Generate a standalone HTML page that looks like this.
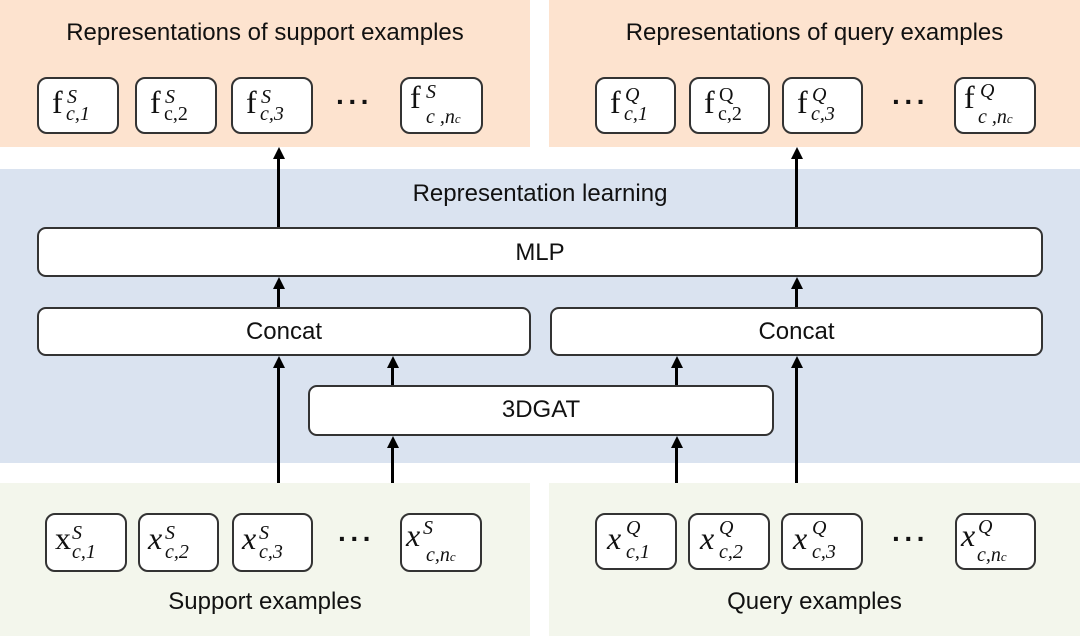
<!DOCTYPE html>
<html><head><meta charset="utf-8"><style>
*{margin:0;padding:0;box-sizing:border-box}
body{width:1080px;height:636px;position:relative;background:#fff;font-family:"Liberation Sans",sans-serif;color:#111;overflow:hidden}
.p{position:absolute}
.box{position:absolute;background:#fff;border:2px solid #333;border-radius:9px}
.lbl{position:absolute;font-size:24px;text-align:center;white-space:nowrap}
.m{position:absolute;border:2px solid #333;border-radius:10px;background:#fff;font-family:"Liberation Serif",serif;font-size:32px;}
.m span.b{position:absolute;left:13px;top:5px}
.m sup,.m sub{position:absolute;font-size:20px;font-style:italic;line-height:1}
.i{font-style:italic}
.v{position:absolute;width:3px;background:#000}
.ah{position:absolute;width:0;height:0;border-left:6px solid transparent;border-right:6px solid transparent;border-bottom:12px solid #000}
.dots{position:absolute;font-size:28px;letter-spacing:3px;font-weight:bold}
</style></head><body>
<div class="p" style="left:0;top:0;width:530px;height:147px;background:#fde3cf"></div>
<div class="p" style="left:549px;top:0;width:531px;height:147px;background:#fde3cf"></div>
<div class="p" style="left:0;top:169px;width:1080px;height:294px;background:#dae3f0"></div>
<div class="p" style="left:0;top:483px;width:530px;height:153px;background:#f3f6ec"></div>
<div class="p" style="left:549px;top:483px;width:531px;height:153px;background:#f3f6ec"></div>

<div class="lbl" style="left:0;width:530px;top:19px">Representations of support examples</div>
<div class="lbl" style="left:549px;width:531px;top:19px">Representations of query examples</div>
<div class="lbl" style="left:0;width:1080px;top:180px">Representation learning</div>
<div class="lbl" style="left:0;width:530px;top:588px">Support examples</div>
<div class="lbl" style="left:549px;width:531px;top:588px">Query examples</div>

<div class="box" style="left:37px;top:227px;width:1006px;height:50px"></div>
<div class="lbl" style="left:37px;width:1006px;top:239px">MLP</div>
<div class="box" style="left:37px;top:307px;width:494px;height:49px"></div>
<div class="lbl" style="left:37px;width:494px;top:318px">Concat</div>
<div class="box" style="left:550px;top:307px;width:493px;height:49px"></div>
<div class="lbl" style="left:550px;width:493px;top:318px">Concat</div>
<div class="box" style="left:308px;top:385px;width:466px;height:51px"></div>
<div class="lbl" style="left:308px;width:466px;top:396px">3DGAT</div>

<div class="v" style="left:277px;top:158px;height:69px"></div><div class="ah" style="left:272.5px;top:147px"></div>
<div class="v" style="left:277px;top:288px;height:19px"></div><div class="ah" style="left:272.5px;top:277px"></div>
<div class="v" style="left:277px;top:367px;height:116px"></div><div class="ah" style="left:272.5px;top:356px"></div>
<div class="v" style="left:391px;top:367px;height:18px"></div><div class="ah" style="left:386.5px;top:356px"></div>
<div class="v" style="left:391px;top:447px;height:36px"></div><div class="ah" style="left:386.5px;top:436px"></div>
<div class="v" style="left:795px;top:158px;height:69px"></div><div class="ah" style="left:790.5px;top:147px"></div>
<div class="v" style="left:795px;top:288px;height:19px"></div><div class="ah" style="left:790.5px;top:277px"></div>
<div class="v" style="left:795px;top:367px;height:116px"></div><div class="ah" style="left:790.5px;top:356px"></div>
<div class="v" style="left:675px;top:367px;height:18px"></div><div class="ah" style="left:670.5px;top:356px"></div>
<div class="v" style="left:675px;top:447px;height:36px"></div><div class="ah" style="left:670.5px;top:436px"></div>

<!-- top boxes -->
<div class="m" style="left:37px;top:77px;width:82px;height:57px"><span class="b">f</span><sup style="left:28px;top:8px">S</sup><sub style="left:27px;top:25px">c,1</sub></div>
<div class="m" style="left:135px;top:77px;width:82px;height:57px"><span class="b">f</span><sup style="left:28px;top:8px">S</sup><sub style="left:27px;top:25px;font-style:normal">c,2</sub></div>
<div class="m" style="left:231px;top:77px;width:82px;height:57px"><span class="b">f</span><sup style="left:28px;top:8px">S</sup><sub style="left:27px;top:25px">c,3</sub></div>
<div class="dots" style="left:336px;top:86px">···</div>
<div class="m" style="left:400px;top:77px;width:83px;height:57px"><span class="b" style="left:8px;top:0">f</span><sup style="left:24px;top:3px">S</sup><sub style="left:24px;top:28px">c ,n<small style="font-size:13px">c</small></sub></div>

<div class="m" style="left:595px;top:77px;width:81px;height:57px"><span class="b">f</span><sup style="left:28px;top:6px">Q</sup><sub style="left:27px;top:25px">c,1</sub></div>
<div class="m" style="left:689px;top:77px;width:81px;height:57px"><span class="b">f</span><sup style="left:28px;top:6px;font-style:normal">Q</sup><sub style="left:27px;top:25px;font-style:normal">c,2</sub></div>
<div class="m" style="left:782px;top:77px;width:81px;height:57px"><span class="b">f</span><sup style="left:28px;top:6px">Q</sup><sub style="left:27px;top:25px">c,3</sub></div>
<div class="dots" style="left:892px;top:86px">···</div>
<div class="m" style="left:954px;top:77px;width:82px;height:57px"><span class="b" style="left:8px;top:0">f</span><sup style="left:24px;top:2px">Q</sup><sub style="left:22px;top:28px">c ,n<small style="font-size:13px">c</small></sub></div>

<!-- bottom boxes -->
<div class="m" style="left:45px;top:513px;width:82px;height:59px"><span class="b" style="left:8px">x</span><sup style="left:25px;top:8px">S</sup><sub style="left:25px;top:27px">c,1</sub></div>
<div class="m" style="left:138px;top:513px;width:81px;height:59px"><span class="b i" style="left:8px">x</span><sup style="left:25px;top:8px">S</sup><sub style="left:25px;top:27px">c,2</sub></div>
<div class="m" style="left:232px;top:513px;width:81px;height:59px"><span class="b i" style="left:8px">x</span><sup style="left:25px;top:8px">S</sup><sub style="left:25px;top:27px">c,3</sub></div>
<div class="dots" style="left:338px;top:523px">···</div>
<div class="m" style="left:400px;top:513px;width:82px;height:59px"><span class="b i" style="left:4px;top:2px">x</span><sup style="left:21px;top:3px">S</sup><sub style="left:24px;top:30px">c,n<small style="font-size:13px">c</small></sub></div>

<div class="m" style="left:595px;top:513px;width:82px;height:57px"><span class="b i" style="left:10px">x</span><sup style="left:29px;top:3px">Q</sup><sub style="left:29px;top:27px">c,1</sub></div>
<div class="m" style="left:688px;top:513px;width:82px;height:57px"><span class="b i" style="left:10px">x</span><sup style="left:29px;top:3px">Q</sup><sub style="left:29px;top:27px">c,2</sub></div>
<div class="m" style="left:781px;top:513px;width:82px;height:57px"><span class="b i" style="left:10px">x</span><sup style="left:29px;top:3px">Q</sup><sub style="left:29px;top:27px">c,3</sub></div>
<div class="dots" style="left:892px;top:523px">···</div>
<div class="m" style="left:955px;top:513px;width:81px;height:57px"><span class="b i" style="left:4px;top:2px">x</span><sup style="left:21px;top:2px">Q</sup><sub style="left:20px;top:30px">c,n<small style="font-size:13px">c</small></sub></div>
</body></html>
